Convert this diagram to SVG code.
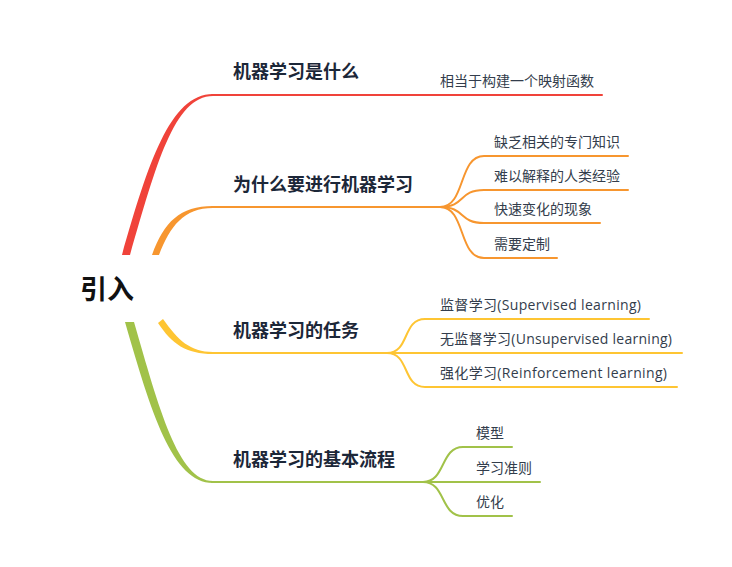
<svg xmlns="http://www.w3.org/2000/svg" width="732" height="567" viewBox="0 0 732 567">
<style>
.root{font-family:"Noto Sans CJK SC","Noto Sans",sans-serif;font-size:27px;font-weight:bold;fill:#111111}
.main{font-family:"Noto Sans CJK SC","Noto Sans",sans-serif;font-size:18px;font-weight:bold;fill:#1c2738}
.sub{font-family:"Open Sans","Noto Sans CJK SC",sans-serif;font-size:14px;fill:#333d4c}
.ln{fill:none;stroke-width:2;stroke-linecap:round}
.red{stroke:#f0433a}.org{stroke:#f7962f}.yel{stroke:#fec533}.grn{stroke:#a1c249}
</style>
<rect width="732" height="567" fill="#ffffff"/>
<g id="connectors">
  <path d="M122,255 C148,164 170,94 213,94 L213,96 C174,96 156,166 130,255 Z" fill="#f0433a"/>
  <path d="M152,255 C164,222 180,206 213,206 L213,208 C184,208 170,226 159,255 Z" fill="#f7962f"/>
  <path d="M163,319 C178,340 190,352 213,352 L213,354 C186,354 172,344 158,323 Z" fill="#fec533"/>
  <path d="M134,322 C159,408 178,481 213,481 L213,483 C172,483 151,412 125,322 Z" fill="#a1c249"/>
  <path class="ln red" d="M212,95 H602"/>
  <path class="ln org" d="M212,207 H440"/>
  <path class="ln org" d="M440,207 C466,207 458,156 484,156 H628"/>
  <path class="ln org" d="M440,207 C466,207 458,190 484,190 H628"/>
  <path class="ln org" d="M440,207 C466,207 458,223 484,223 H600"/>
  <path class="ln org" d="M440,207 C466,207 458,258 484,258 H557"/>
  <path class="ln yel" d="M212,353 H387"/>
  <path class="ln yel" d="M387,353 C410,353 402,319 425,319 H649"/>
  <path class="ln yel" d="M387,353 H682"/>
  <path class="ln yel" d="M387,353 C410,353 402,387 425,387 H677"/>
  <path class="ln grn" d="M212,482 H423"/>
  <path class="ln grn" d="M423,482 C446,482 440,447 463,447 H512"/>
  <path class="ln grn" d="M423,482 H540"/>
  <path class="ln grn" d="M423,482 C446,482 440,516 463,516 H512"/>
</g>
<g id="root"><text class="root" x="80" y="299">引入</text></g>
<g id="n1"><text class="main" x="233" y="78">机器学习是什么</text></g>
<g id="n1-1"><text class="sub" x="440" y="86">相当于构建一个映射函数</text></g>
<g id="n2"><text class="main" x="233" y="191">为什么要进行机器学习</text></g>
<g id="n2-1"><text class="sub" x="494" y="147">缺乏相关的专门知识</text></g>
<g id="n2-2"><text class="sub" x="494" y="181">难以解释的人类经验</text></g>
<g id="n2-3"><text class="sub" x="494" y="214">快速变化的现象</text></g>
<g id="n2-4"><text class="sub" x="494" y="249">需要定制</text></g>
<g id="n3"><text class="main" x="233" y="337">机器学习的任务</text></g>
<g id="n3-1"><text class="sub" x="440" y="310" textLength="201" lengthAdjust="spacing">监督学习(Supervised learning)</text></g>
<g id="n3-2"><text class="sub" x="440" y="344" textLength="232" lengthAdjust="spacing">无监督学习(Unsupervised learning)</text></g>
<g id="n3-3"><text class="sub" x="440" y="378" textLength="227" lengthAdjust="spacing">强化学习(Reinforcement learning)</text></g>
<g id="n4"><text class="main" x="233" y="466">机器学习的基本流程</text></g>
<g id="n4-1"><text class="sub" x="476" y="438">模型</text></g>
<g id="n4-2"><text class="sub" x="476" y="473">学习准则</text></g>
<g id="n4-3"><text class="sub" x="476" y="507">优化</text></g>
</svg>
